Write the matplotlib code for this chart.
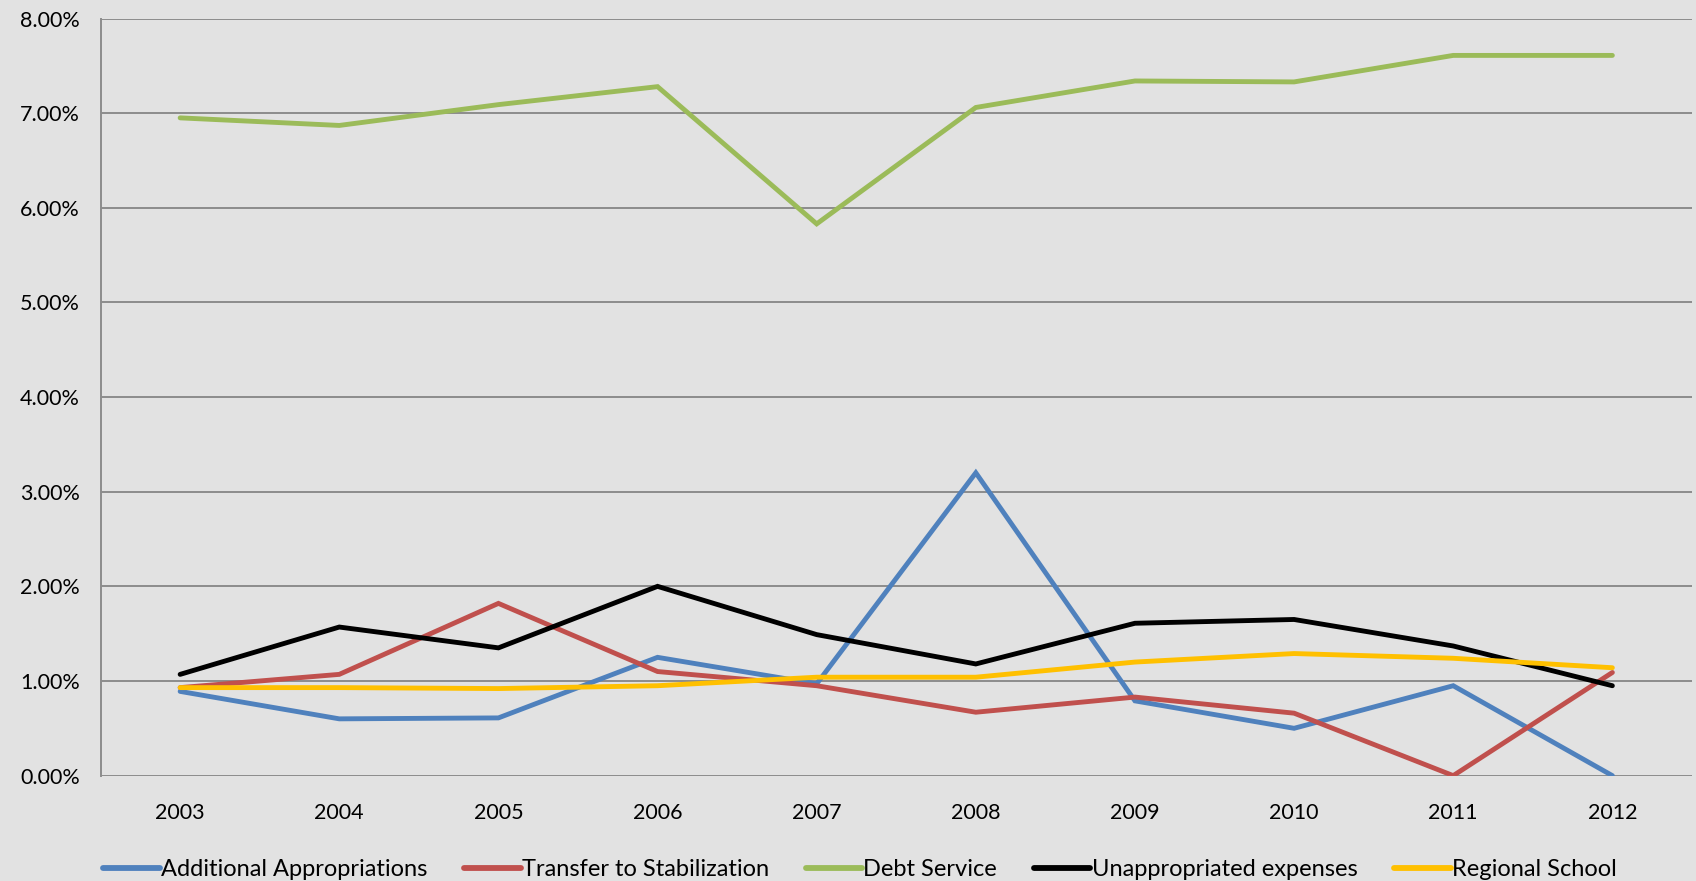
import matplotlib
matplotlib.use("Agg")
import matplotlib.pyplot as plt
from matplotlib.ticker import FuncFormatter

years = ["2003", "2004", "2005", "2006", "2007", "2008", "2009", "2010", "2011", "2012"]

additional_appropriations = [0.89, 0.60, 0.61, 1.25, 0.97, 3.20, 0.79, 0.50, 0.95, 0.00]
transfer_to_stabilization = [0.93, 1.07, 1.82, 1.10, 0.95, 0.67, 0.83, 0.66, 0.00, 1.09]
debt_service = [6.95, 6.87, 7.09, 7.28, 5.83, 7.06, 7.34, 7.33, 7.61, 7.61]
unappropriated_expenses = [1.07, 1.57, 1.35, 2.00, 1.49, 1.18, 1.61, 1.65, 1.37, 0.95]
regional_school = [0.93, 0.93, 0.92, 0.95, 1.04, 1.04, 1.20, 1.29, 1.24, 1.14]

series = [
    ("Additional Appropriations", additional_appropriations, "#4f81bd"),
    ("Transfer to Stabilization", transfer_to_stabilization, "#c0504d"),
    ("Debt Service", debt_service, "#9bbb59"),
    ("Unappropriated expenses", unappropriated_expenses, "#000000"),
    ("Regional School", regional_school, "#ffc000"),
]

plt.rcParams["font.family"] = ["Lato", "DejaVu Sans"]

bg = "#e2e2e2"
fig = plt.figure(figsize=(16.96, 8.81), dpi=100, facecolor=bg)
ax = fig.add_axes([0.0593, 0.1196, 0.9383, 0.8594])
ax.set_facecolor(bg)

x = list(range(len(years)))
for name, vals, col in series:
    ax.plot(x, vals, color=col, lw=3.5, label=name, solid_capstyle="round",
            solid_joinstyle="miter")

ax.set_xlim(-0.5, len(years) - 0.5)
ax.set_ylim(0, 8)
ax.set_yticks([0, 1, 2, 3, 4, 5, 6, 7, 8])
ax.yaxis.set_major_formatter(FuncFormatter(lambda v, p: "{:.2f}%".format(v)))
ax.set_xticks(x)
ax.set_xticklabels(years)

ax.grid(axis="y", color="#8c8c8c", lw=1.4)
ax.set_axisbelow(True)
for s in ["top", "right", "bottom"]:
    ax.spines[s].set_visible(False)
ax.spines["left"].set_color("#8c8c8c")
ax.spines["left"].set_linewidth(1.4)

ax.tick_params(axis="y", length=0, pad=15, labelsize=15.5, labelcolor="black")
ax.tick_params(axis="x", length=0, pad=20, labelsize=15.5, labelcolor="black")

leg = fig.legend(loc="center", bbox_to_anchor=(0.507, 0.013), ncol=5, frameon=False,
                 fontsize=17, handlelength=2.4, handletextpad=0.05, columnspacing=1.55)
for h in leg.get_lines():
    h.set_linewidth(4.2)

fig.savefig("out.png", dpi=100, facecolor=bg)
